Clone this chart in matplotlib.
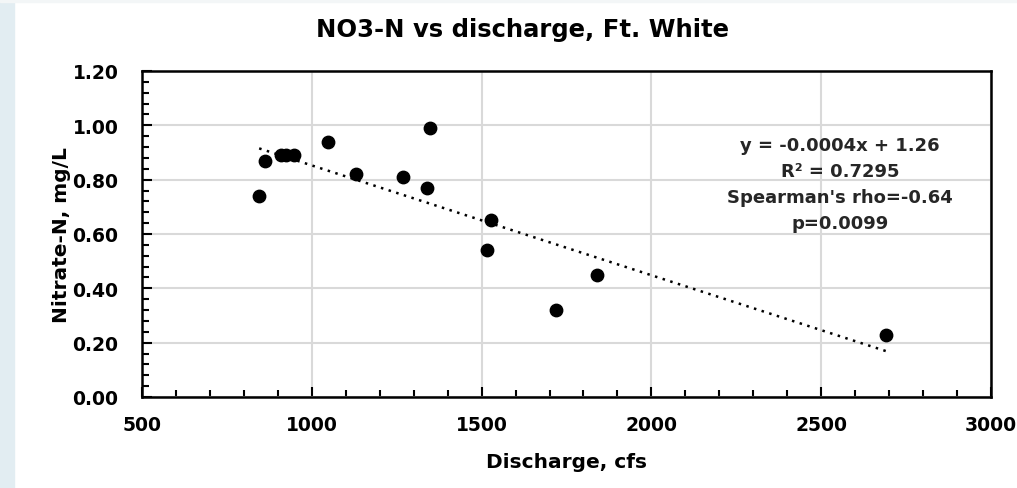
import numpy as np
import matplotlib
matplotlib.use('Agg')
import matplotlib.pyplot as plt
from matplotlib.patches import Rectangle
from matplotlib.ticker import MultipleLocator, FormatStrFormatter

discharge = [845, 862, 908, 925, 948, 1048, 1130, 1268, 1349, 1338, 1528, 1517, 1720, 1839, 2690]
nitrate = [0.74, 0.87, 0.89, 0.89, 0.89, 0.94, 0.82, 0.81, 0.99, 0.77, 0.65, 0.54, 0.32, 0.45, 0.23]
stats_text = "y = -0.0004x + 1.26\nR² = 0.7295\nSpearman's rho=-0.64\np=0.0099"

plt.rcParams['font.family'] = ['DejaVu Sans']
plt.rcParams['font.weight'] = 'bold'

fig = plt.figure(figsize=(10.17, 4.89), dpi=100)
# light strips at the edges of the screenshot
fig.patches.append(Rectangle((0, 0), 14 / 1017, 1, transform=fig.transFigure,
                             color='#e2edf2', zorder=0))
fig.patches.append(Rectangle((0, 1 - 3 / 489), 1, 3 / 489, transform=fig.transFigure,
                             color='#f3f6f7', zorder=0))
ax = fig.add_axes([142 / 1017, 1 - 398 / 489, 849 / 1017, 326 / 489])

ax.scatter(discharge, nitrate, s=80, color='black', zorder=3)

coef = np.polyfit(discharge, nitrate, 1)
xs = np.array([min(discharge), max(discharge)])
ax.plot(xs, np.polyval(coef, xs), linestyle=(0, (1, 2.2)), color='black', lw=1.8, zorder=2)

ax.set_xlim(500, 3000)
ax.set_ylim(0, 1.2)
ax.xaxis.set_major_locator(MultipleLocator(500))
ax.xaxis.set_minor_locator(MultipleLocator(100))
ax.yaxis.set_major_locator(MultipleLocator(0.2))
ax.yaxis.set_minor_locator(MultipleLocator(0.04))
ax.yaxis.set_major_formatter(FormatStrFormatter('%.2f'))
ax.tick_params(which='both', direction='in', width=1.5, labelsize=13.5)
ax.tick_params(which='major', length=7)
ax.tick_params(which='minor', length=5)
ax.tick_params(axis='y', pad=17)
ax.tick_params(axis='x', pad=13)
ax.grid(True, which='major', color='#d9d9d9', lw=1.5, zorder=0)
ax.set_axisbelow(True)
for sp in ax.spines.values():
    sp.set_linewidth(1.8)

ax.set_xlabel('Discharge, cfs', fontsize=14.5, fontweight='bold', labelpad=13)
ax.set_ylabel('Nitrate-N, mg/L', fontsize=14.5, fontweight='bold', labelpad=1)
fig.text(522 / 1017, 1 - 30 / 489, 'NO3-N vs discharge, Ft. White', ha='center', va='center',
         fontsize=17.5, fontweight='bold')
ax.text(2555, 0.784, stats_text, ha='center', va='center', fontsize=13,
        fontweight='bold', linespacing=1.55, color='#262626')

fig.savefig('out.png', dpi=100)
